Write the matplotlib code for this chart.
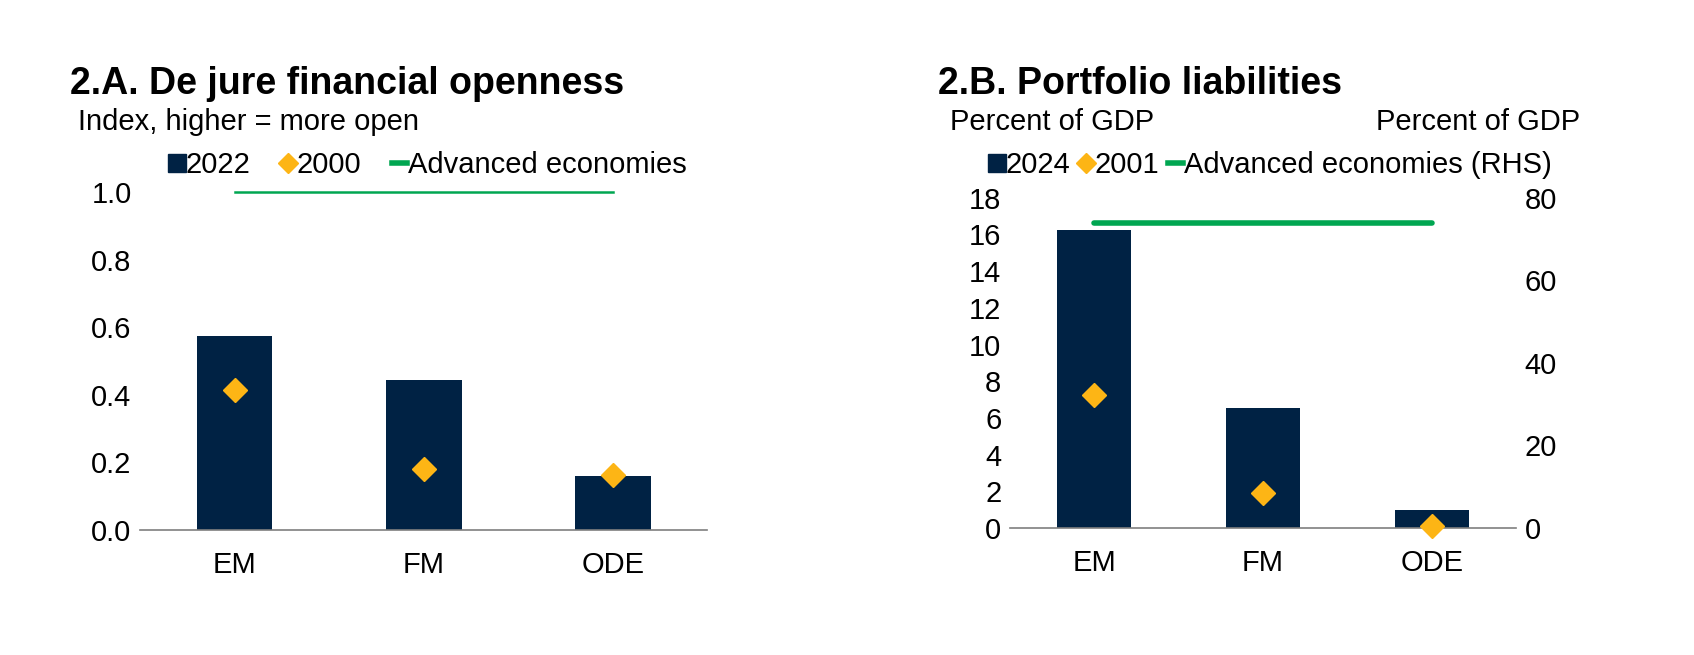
import matplotlib
matplotlib.use("Agg")
import matplotlib.pyplot as plt
from matplotlib.lines import Line2D

plt.rcParams['font.family'] = ['Liberation Sans', 'DejaVu Sans']

# data
categories = ["EM", "FM", "ODE"]
openness_2022 = [0.575, 0.444, 0.160]
openness_2000 = [0.415, 0.179, 0.163]
openness_adv = 1.0

liab_2024 = [16.25, 6.55, 1.0]
liab_2001 = [7.25, 1.9, 0.1]
liab_adv = 74.0  # RHS

navy = "#002244"
orange = "#FDB515"
green = "#00A651"
fs = 21

fig = plt.figure(figsize=(16.94, 6.55), dpi=100)

# ---- panel A
ax1 = fig.add_axes([0.0826, 0.191, 0.335, 0.516])
x = range(len(categories))
ax1.bar(x, openness_2022, width=0.4, color=navy, zorder=2)
ax1.plot(x, openness_2000, 'D', color=orange, markersize=12, linestyle='none', zorder=3)
ax1.plot([0, 2], [openness_adv, openness_adv], color=green, lw=1.8, clip_on=False, zorder=3)
ax1.set_xlim(-0.5, 2.5)
ax1.set_ylim(0, 1.0)
ax1.set_yticks([0, 0.2, 0.4, 0.6, 0.8, 1.0])
ax1.set_yticklabels(["0.0", "0.2", "0.4", "0.6", "0.8", "1.0"])
ax1.set_xticks(list(x))
ax1.set_xticklabels(categories)

# ---- panel B
ax2 = fig.add_axes([0.596, 0.194, 0.299, 0.504])
ax2.bar(x, liab_2024, width=0.44, color=navy, zorder=2)
ax2.plot(x, liab_2001, 'D', color=orange, markersize=12, linestyle='none', zorder=3, clip_on=False)
ax2.set_xlim(-0.5, 2.5)
ax2.set_ylim(0, 18)
ax2.set_yticks(range(0, 19, 2))
ax2.set_xticks(list(x))
ax2.set_xticklabels(categories)
ax2r = ax2.twinx()
ax2r.plot([0, 2], [liab_adv, liab_adv], color=green, lw=4, solid_capstyle='round', zorder=3)
ax2r.set_ylim(0, 80)
ax2r.set_yticks([0, 20, 40, 60, 80])

for a in (ax1, ax2, ax2r):
    for s in a.spines.values():
        s.set_visible(False)
    a.tick_params(length=0, labelsize=fs, pad=6)
    a.set_facecolor('none')
for a in (ax1, ax2):
    a.spines['bottom'].set_visible(True)
    a.spines['bottom'].set_color('#7f7f7f')
    a.spines['bottom'].set_linewidth(1.2)
    a.tick_params(axis='x', pad=15)

# titles and units
fig.text(0.0415, 0.872, "2.A. De jure financial openness", fontsize=27, fontweight='bold', va='center')
fig.text(0.046, 0.814, "Index, higher = more open", fontsize=fs, va='center')
fig.text(0.554, 0.872, "2.B. Portfolio liabilities", fontsize=27, fontweight='bold', va='center')
fig.text(0.561, 0.814, "Percent of GDP", fontsize=fs, va='center')
fig.text(0.933, 0.814, "Percent of GDP", fontsize=fs, va='center', ha='right')

# legends
h_bar = Line2D([], [], marker='s', color=navy, linestyle='none', markersize=13)
h_dia = Line2D([], [], marker='D', color=orange, linestyle='none', markersize=10)
h_line = Line2D([], [], color=green, lw=4)
fig.legend([h_bar, h_dia, h_line], ["2022", "2000", "Advanced economies"],
           loc='center left', bbox_to_anchor=(0.1, 0.748), ncol=3, frameon=False,
           fontsize=fs, handlelength=0.5, handletextpad=0.05, columnspacing=1.05,
           borderpad=0, borderaxespad=0)
fig.legend([h_bar, h_dia, h_line], ["2024", "2001", "Advanced economies (RHS)"],
           loc='center left', bbox_to_anchor=(0.584, 0.748), ncol=3, frameon=False,
           fontsize=fs, handlelength=0.5, handletextpad=0.05, columnspacing=0.3,
           borderpad=0, borderaxespad=0)

fig.savefig("out.png", dpi=100)
